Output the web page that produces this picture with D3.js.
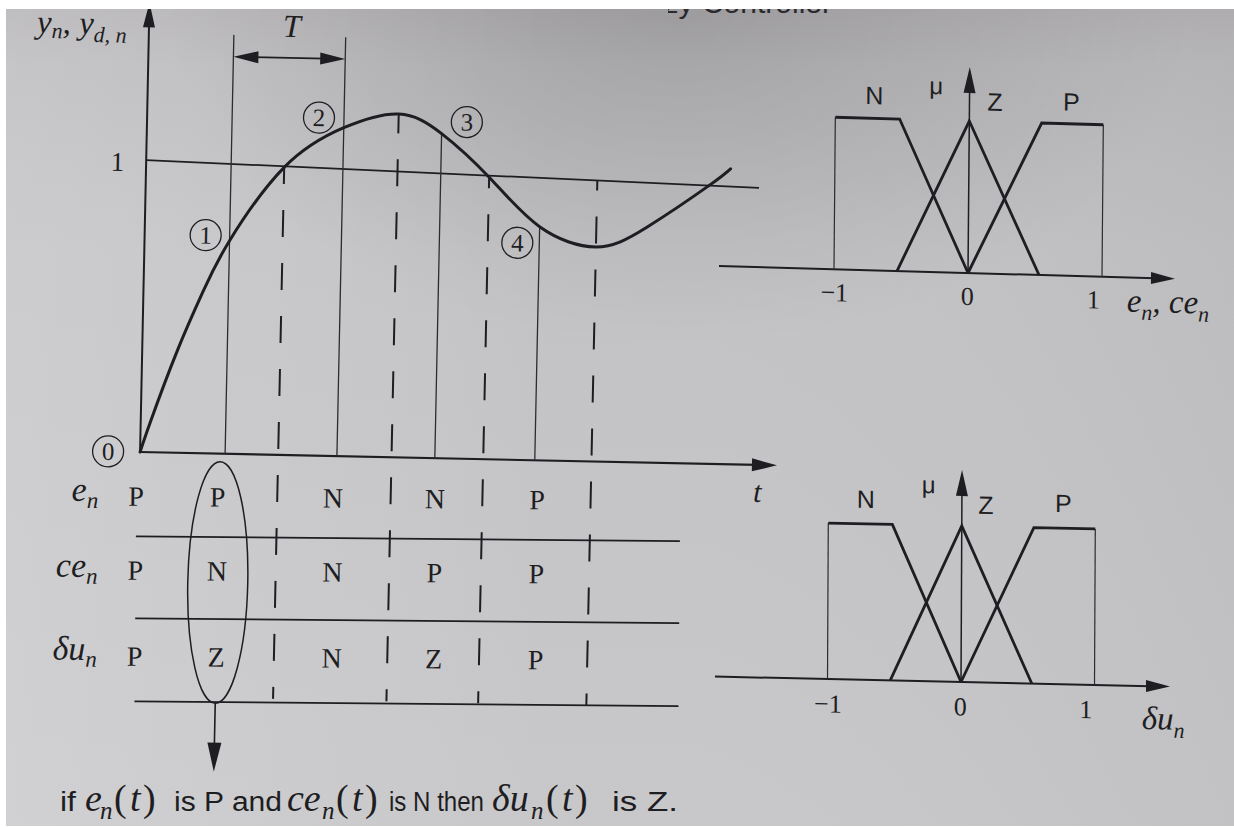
<!DOCTYPE html>
<html>
<head>
<meta charset="utf-8">
<title>Fuzzy rules read from a step response</title>
<script src="https://cdn.jsdelivr.net/npm/d3@7/dist/d3.min.js"></script>
<style>
  html, body { margin: 0; padding: 0; background: #ffffff; }
  svg { display: block; }
</style>
</head>
<body>
<script>
// ---- step response y_n(t) and desired output y_d,n ----
const respT = [0, 0.097, 0.34, 0.582, 0.825, 1.34, 1.91, 2.44, 2.86, 3.33, 3.83, 4.38, 4.87, 5.46, 5.67];
const respY = [0, 0.107, 0.349, 0.557, 0.73, 0.985, 1.125, 1.176, 1.112, 0.966, 0.80, 0.735, 0.806, 0.952, 1.012];
const refT = [0, 5.95];
const refY = [1.0, 0.949];

// sampling instants (solid lines) and the instants half way between them (dashed lines)
const sampleT = [0.825, 1.91, 2.86, 3.83];
const midT = [1.34, 2.44, 3.33, 4.38];
const pointLabels = ['0', '1', '2', '3', '4'];

// linguistic value of each signal in each interval
const rowVars = ['e', 'ce', 'δu'];
const colT = [-0.04, 0.75, 1.87, 2.86, 3.85];
const eRow = ['P', 'P', 'N', 'N', 'P'];
const ceRow = ['P', 'N', 'N', 'P', 'P'];
const duRow = ['P', 'Z', 'N', 'Z', 'P'];

// membership functions on the normalised universe [-1, 1]
const mfNames = ['N', 'Z', 'P'];
const mfN = [[-1, 1], [-0.52, 1], [0, 0]];
const mfZ = [[-0.53, 0], [0, 1], [0.53, 0]];
const mfP = [[0, 0], [0.54, 1], [1, 1]];
const mfTicks = [-1, 0, 1];

// ---------------------------------------------------------------
const W = 1234, H = 827;
const INK = '#1e1e22';
const SERIF = '"Liberation Serif", "Times New Roman", Times, serif';
const SANS = '"Liberation Sans", Arial, Helvetica, sans-serif';

const svg = d3.select('body').append('svg')
  .attr('width', W).attr('height', H).attr('viewBox', `0 0 ${W} ${H}`);
const defs = svg.append('defs');

// paper tone
const gV = defs.append('linearGradient').attr('id', 'paperV')
  .attr('x1', 0).attr('y1', 0).attr('x2', 0).attr('y2', 1);
[[0, '#b2b0b3'], [0.08, '#bbbabd'], [0.3, '#c3c3c6'], [1, '#c8c8cb']]
  .forEach(([o, c]) => gV.append('stop').attr('offset', o).attr('stop-color', c));
const gH = defs.append('linearGradient').attr('id', 'paperH')
  .attr('x1', 0).attr('y1', 0).attr('x2', 1).attr('y2', 0);
[[0, '#ffffff', 0.16], [0.45, '#ffffff', 0], [1, '#000000', 0.03]]
  .forEach(([o, c, a]) => gH.append('stop').attr('offset', o).attr('stop-color', c).attr('stop-opacity', a));
const gR = defs.append('radialGradient').attr('id', 'paperTop')
  .attr('cx', 0.55).attr('cy', 0).attr('r', 0.42);
gR.append('stop').attr('offset', 0).attr('stop-color', '#000').attr('stop-opacity', 0.13);
gR.append('stop').attr('offset', 1).attr('stop-color', '#000').attr('stop-opacity', 0);
svg.append('rect').attr('width', W).attr('height', H).attr('fill', 'url(#paperV)');
svg.append('rect').attr('width', W).attr('height', H).attr('fill', 'url(#paperH)');
svg.append('rect').attr('width', W).attr('height', H).attr('fill', 'url(#paperTop)');

// section heading running off the top edge
defs.append('clipPath').attr('id', 'headClip')
  .append('rect').attr('x', 668).attr('y', 0).attr('width', 320).attr('height', 40);
svg.append('text').attr('clip-path', 'url(#headClip)')
  .attr('x', 832).attr('y', 13).attr('text-anchor', 'end')
  .attr('font-family', SANS).attr('font-size', 30).attr('fill', '#2a2a2e')
  .text('Fuzzy Controller');

// filled, narrow arrow head with its tip at (tx, ty)
function head(g, tx, ty, angDeg, len = 25, half = 6) {
  const a = angDeg * Math.PI / 180;
  const bx = tx - len * Math.cos(a), by = ty - len * Math.sin(a);
  const px = -Math.sin(a) * half, py = Math.cos(a) * half;
  g.append('path')
    .attr('d', `M${tx},${ty}L${bx + px},${by + py}L${bx - px},${by - py}Z`)
    .attr('fill', INK);
}
function seg(g, x1, y1, x2, y2, w) {
  return g.append('line').attr('x1', x1).attr('y1', y1).attr('x2', x2).attr('y2', y2)
    .attr('stroke', INK).attr('stroke-width', w).attr('stroke-linecap', 'butt');
}

// ---------------- response plot ----------------
const x = d3.scaleLinear().domain([0, 6.18]).range([141, 778]);
const y = d3.scaleLinear().domain([0, 1]).range([462, 170]);
const resp = t => respY[respT.indexOf(t)];
const ref = d3.scaleLinear().domain(refT).range(refY);

const main = svg.append('g').attr('transform', 'rotate(1.2 617 413)');

// axes
seg(main, x(0), y(0), x(6.18) - 20, y(0), 2.2);
head(main, x(6.18), y(0), 0, 25, 6.5);
seg(main, x(0), y(0), x(0), y(1.54) + 20, 2);
head(main, x(0), y(1.54), -90, 25, 6);

const yAxis = main.append('g').attr('transform', `translate(${x(0)},0)`)
  .call(d3.axisLeft(y).tickValues([1]).tickSize(0).tickPadding(22).tickFormat(d3.format('d')));
yAxis.select('.domain').remove();
yAxis.selectAll('text').attr('font-family', SERIF).attr('font-size', 27)
  .attr('fill', INK).attr('dy', '0.4em');

// axis names
const yLab = main.append('text').attr('x', 29).attr('y', 45)
  .attr('font-family', SERIF).attr('font-size', 33).attr('font-style', 'italic').attr('fill', INK);
yLab.append('tspan').text('y');
yLab.append('tspan').attr('font-size', 22).attr('dy', 5).text('n');
yLab.append('tspan').attr('dy', -5).text(', y');
yLab.append('tspan').attr('font-size', 22).attr('dy', 8).text('d, n');

main.append('text').attr('x', x(6.18) - 19).attr('y', y(0) + 37).attr('text-anchor', 'middle')
  .attr('font-family', SERIF).attr('font-size', 30).attr('font-style', 'italic')
  .attr('fill', INK).text('t');

// desired output
main.append('path').datum(refT.map((t, i) => [t, refY[i]]))
  .attr('d', d3.line().x(d => x(d[0])).y(d => y(d[1])))
  .attr('fill', 'none').attr('stroke', INK).attr('stroke-width', 1.8);

// sampling instants
sampleT.forEach((t, i) => {
  const top = i < 2 ? y(1.435) : y(resp(t));
  seg(main, x(t), y(0), x(t), top, 1.3).attr('stroke', '#2c2c30');
});

// half-way instants, dashed from the upper of the two curves down through the table
const DASH = 27, GAP = 26, PHASE = 164, tableFoot = 706;
midT.forEach(t => {
  const top = Math.min(y(resp(t)), y(ref(t)));
  const off = (((top - PHASE) % (DASH + GAP)) + (DASH + GAP)) % (DASH + GAP);
  seg(main, x(t), top, x(t), tableFoot, 2)
    .attr('stroke-dasharray', `${DASH},${GAP}`).attr('stroke-dashoffset', off);
});

// response
main.append('path').datum(respT.map((t, i) => [t, respY[i]]))
  .attr('d', d3.line().x(d => x(d[0])).y(d => y(d[1])).curve(d3.curveNatural))
  .attr('fill', 'none').attr('stroke', INK).attr('stroke-width', 3)
  .attr('stroke-linecap', 'round');

// sampling period bracket
const brY = y(1.36);
seg(main, x(sampleT[0]) + 20, brY, x(sampleT[1]) - 20, brY, 1.8);
head(main, x(sampleT[0]), brY, 180, 25, 6);
head(main, x(sampleT[1]), brY, 0, 25, 6);
main.append('text').attr('x', (x(sampleT[0]) + x(sampleT[1])) / 2 + 2).attr('y', brY - 21)
  .attr('text-anchor', 'middle').attr('font-family', SERIF).attr('font-size', 32)
  .attr('font-style', 'italic').attr('fill', INK).text('T');

// numbered sample points
const circOff = [[-32, 0], [-24, -5], [-25, -9.5], [25, -12], [-22, 16.5]];
[0, ...sampleT].forEach((t, i) => {
  const cx = x(t) + circOff[i][0], cy = y(resp(t)) + circOff[i][1];
  main.append('circle').attr('cx', cx).attr('cy', cy).attr('r', 15.5)
    .attr('fill', 'none').attr('stroke', INK).attr('stroke-width', 1.3);
  main.append('text').attr('x', cx).attr('y', cy + 8.5).attr('text-anchor', 'middle')
    .attr('font-family', SERIF).attr('font-size', 25).attr('fill', INK).text(pointLabels[i]);
});

// the interval picked out as one rule
const pickT = 0.78, ellTop = y(0) + 8, ellBot = 711.5;
main.append('ellipse').attr('cx', x(pickT)).attr('cy', (ellTop + ellBot) / 2)
  .attr('rx', 30).attr('ry', (ellBot - ellTop) / 2)
  .attr('fill', 'none').attr('stroke', INK).attr('stroke-width', 1.5);
seg(main, x(pickT), ellBot, x(pickT), 780 - 26, 1.6);
head(main, x(pickT), 780, 90, 29, 7);

// ---------------- rule table ----------------
const tbl = svg.append('g').attr('transform', 'rotate(0.5 617 413)');
const rowLineY = [540.5, 622.5, 705.5];
const rowBaseY = [510, 584, 670];
const rowLabY = [505.5, 581.5, 664.5];
rowLineY.forEach(ly => seg(tbl, 137, ly, 681, ly, 1.8));

[eRow, ceRow, duRow].forEach((row, r) => {
  const lab = tbl.append('text').attr('x', 99).attr('y', rowLabY[r]).attr('text-anchor', 'end')
    .attr('font-family', SERIF).attr('font-size', 34).attr('font-style', 'italic').attr('fill', INK);
  lab.append('tspan').text(rowVars[r]);
  lab.append('tspan').attr('font-size', 23).attr('dy', 7).text('n');
  row.forEach((v, j) => {
    tbl.append('text').attr('x', x(colT[j])).attr('y', rowBaseY[r]).attr('text-anchor', 'middle')
      .attr('font-family', SERIF).attr('font-size', 28).attr('fill', INK).text(v);
  });
});

// ---------------- membership functions ----------------
function drawMF(cfg) {
  const g = svg.append('g')
    .attr('transform', `matrix(1,${cfg.b},${cfg.c},1,${cfg.ox},${cfg.oy})`);
  const xm = d3.scaleLinear().domain([-1, 1]).range([-cfg.half, cfg.half]);
  const ym = d3.scaleLinear().domain([0, 1]).range([0, -cfg.h]);

  seg(g, cfg.left, 0, cfg.right - 20, 0, 2);
  head(g, cfg.right, 0, 0, 24, 6);
  seg(g, 0, 0, 0, cfg.top + 20, 1.5);
  head(g, 0, cfg.top, -90, 26, 6);
  [-1, 1].forEach(v => seg(g, xm(v), 0, xm(v), ym(1), 1.2).attr('stroke', '#2c2c30'));

  const ln = d3.line().x(d => xm(d[0])).y(d => ym(d[1]));
  [mfN, mfZ, mfP].forEach(s => g.append('path').attr('d', ln(s))
    .attr('fill', 'none').attr('stroke', INK).attr('stroke-width', 2.8)
    .attr('stroke-linejoin', 'miter'));

  const ax = g.append('g').call(d3.axisBottom(xm).tickValues(mfTicks).tickSize(0)
    .tickFormat(d => d < 0 ? '−1' : String(d)));
  ax.select('.domain').remove();
  ax.selectAll('text').attr('y', cfg.tickY).attr('dy', 0)
    .attr('dx', (d, i) => [0, -1, -9][i])
    .attr('font-family', SERIF).attr('font-size', 26).attr('fill', INK);

  mfNames.forEach((n, i) => {
    g.append('text').attr('x', xm(cfg.setAt[i])).attr('y', cfg.setY[i]).attr('text-anchor', 'middle')
      .attr('font-family', SANS).attr('font-size', 25).attr('fill', INK).text(n);
  });
  g.append('text').attr('x', xm(-0.25)).attr('y', cfg.muY).attr('text-anchor', 'middle')
    .attr('font-family', SANS).attr('font-size', 24).attr('fill', INK).text('μ');

  const lab = g.append('text').attr('x', cfg.labX).attr('y', cfg.labY)
    .attr('font-family', SERIF).attr('font-size', 33).attr('font-style', 'italic').attr('fill', INK);
  cfg.label.forEach(([base, sub, sep]) => {
    lab.append('tspan').text(base);
    lab.append('tspan').attr('font-size', 22).attr('dy', 8).text(sub);
    lab.append('tspan').attr('dy', -8).text(sep);
  });
}

drawMF({ ox: 968, oy: 273, b: 0.028, c: -0.0087, half: 134, h: 152, top: -206,
  left: -249, right: 207, tickY: 32, setAt: [-0.71, 0.19, 0.76], setY: [-166, -163, -165],
  muY: -178, labX: 159, labY: 34, label: [['e', 'n', ', '], ['ce', 'n', '']] });
drawMF({ ox: 961, oy: 682, b: 0.022, c: -0.005, half: 133.5, h: 156, top: -212,
  left: -246, right: 209, tickY: 33.5, setAt: [-0.72, 0.18, 0.76], setY: [-172, -168.5, -172],
  muY: -188, labX: 181, labY: 43, label: [['δu', 'n', '']] });

// ---------------- the rule that was picked out ----------------
const SY = 811;
const sent = svg.append('g').attr('fill', INK);
function sans(xp, str, len) {
  sent.append('text').attr('x', xp).attr('y', SY).attr('font-family', SANS).attr('font-size', 27)
    .attr('textLength', len).attr('lengthAdjust', 'spacingAndGlyphs').text(str);
}
function sig(xp, base, subX, parX) {
  const t = sent.append('text').attr('y', SY).attr('font-family', SERIF).attr('font-size', 38);
  t.append('tspan').attr('x', xp).attr('font-style', 'italic').text(base);
  t.append('tspan').attr('x', subX).attr('font-style', 'italic').attr('font-size', 25).attr('dy', 8).text('n');
  t.append('tspan').attr('x', parX).attr('dy', -8).text('(');
  t.append('tspan').attr('x', parX + 16).attr('font-style', 'italic').text('t');
  t.append('tspan').attr('x', parX + 29).text(')');
}
sans(60, 'if', 16);
sig(85, 'e', 100, 114);
sans(174, 'is P and', 108);
sig(287, 'ce', 322, 336);
sans(389, 'is N then', 95);
sig(492, 'δu', 531, 546);
sans(612, 'is Z.', 66);

// photo margins
svg.append('rect').attr('x', 0).attr('y', 0).attr('width', W).attr('height', 9).attr('fill', '#ffffff');
svg.append('rect').attr('x', 0).attr('y', 0).attr('width', 6).attr('height', H).attr('fill', '#ffffff');
svg.append('rect').attr('x', 0).attr('y', H - 1).attr('width', W).attr('height', 1).attr('fill', '#ffffff');
</script>
</body>
</html>
